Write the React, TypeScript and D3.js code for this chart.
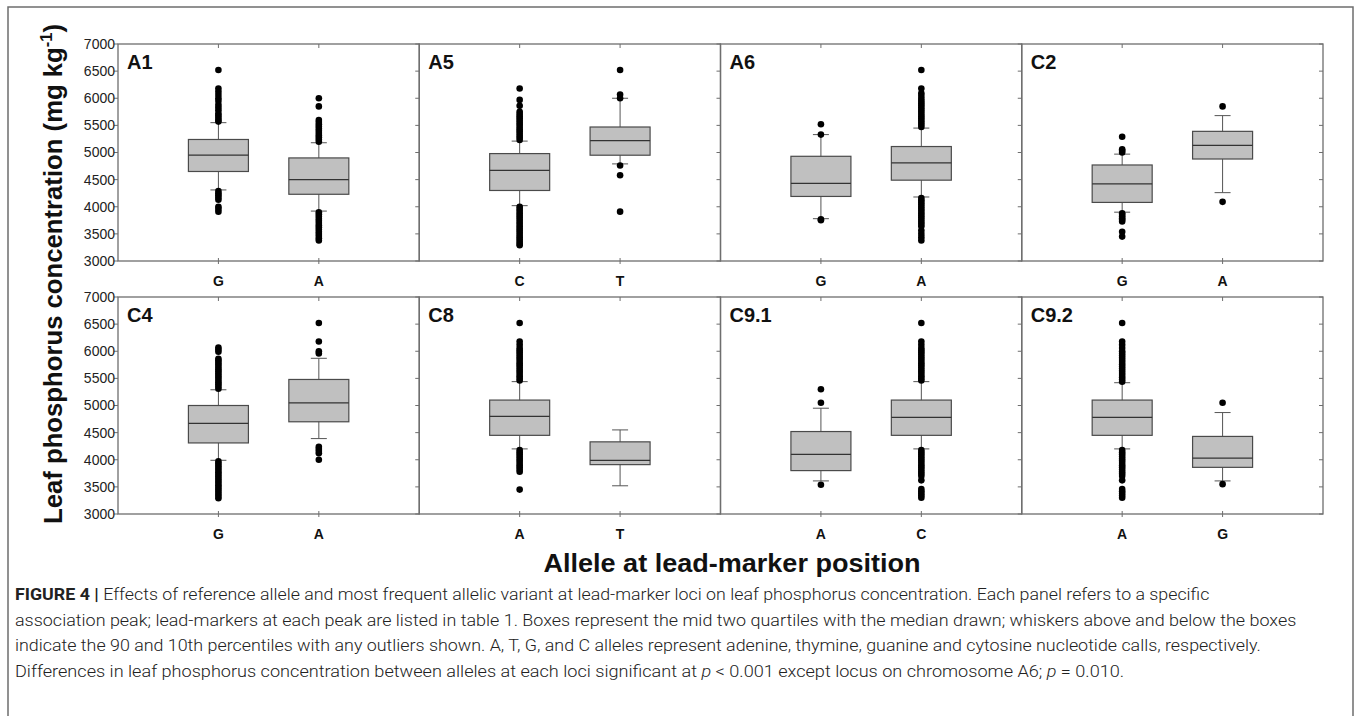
import React, { useEffect, useRef } from 'react'
import * as d3 from 'd3'

// panels and alleles
const panelNames = ['A1', 'A5', 'A6', 'C2', 'C4', 'C8', 'C9.1', 'C9.2']
const alleles = [['G', 'A'], ['C', 'T'], ['G', 'A'], ['G', 'A'], ['G', 'A'], ['A', 'T'], ['A', 'C'], ['A', 'G']]

// box stats (mg/kg)
const lowWhisker = [[4310, 3920], [4020, 4790], [3780, 4180], [3900, 4260], [3990, 4390], [4200, 3520], [3610, 4200], [4200, 3610]]
const q1 = [[4650, 4230], [4300, 4950], [4190, 4490], [4080, 4880], [4310, 4700], [4450, 3910], [3800, 4450], [4450, 3860]]
const medians = [[4950, 4500], [4670, 5220], [4430, 4810], [4420, 5130], [4670, 5050], [4800, 3990], [4100, 4780], [4780, 4030]]
const q3 = [[5240, 4900], [4980, 5470], [4930, 5110], [4770, 5390], [5000, 5480], [5100, 4330], [4520, 5100], [5100, 4430]]
const highWhisker = [[5550, 5180], [5210, 6000], [5330, 5450], [4970, 5680], [5290, 5870], [5440, 4550], [4950, 5440], [5420, 4870]]

const outliers = [
  [
    [5570, 5600, 5640, 5680, 5720, 5780, 5830, 5880, 5950, 6000, 6060, 6120, 6180, 6520, 4290, 4250, 4210, 4170, 4130, 4000, 3960, 3910],
    [5200, 5240, 5280, 5320, 5360, 5400, 5440, 5480, 5520, 5560, 5600, 5850, 6000, 3900, 3860, 3820, 3780, 3740, 3700, 3660, 3620, 3580, 3540, 3500, 3460, 3420, 3380],
  ],
  [
    [5230, 5270, 5310, 5350, 5390, 5430, 5470, 5510, 5550, 5590, 5630, 5670, 5710, 5750, 5860, 5970, 6180,
      4000, 3960, 3920, 3880, 3840, 3800, 3760, 3720, 3680, 3640, 3600, 3560, 3520, 3480, 3440, 3400, 3360, 3320, 3290],
    [6000, 6070, 6520, 4760, 4580, 3910],
  ],
  [
    [5330, 5520, 3770, 3750],
    [5470, 5510, 5550, 5590, 5630, 5670, 5710, 5750, 5790, 5830, 5870, 5910, 5950, 5990, 6040, 6090, 6180, 6520,
      4160, 4120, 4080, 4040, 4000, 3960, 3920, 3880, 3840, 3800, 3760, 3720, 3680, 3640, 3560, 3500, 3440, 3380],
  ],
  [
    [5000, 5030, 5060, 5290, 3880, 3850, 3820, 3790, 3760, 3730, 3540, 3450],
    [5850, 4090],
  ],
  [
    [5310, 5350, 5390, 5430, 5470, 5510, 5550, 5590, 5630, 5670, 5710, 5750, 5790, 5830, 5860, 5990, 6030, 6070,
      3970, 3930, 3890, 3850, 3810, 3770, 3730, 3690, 3650, 3610, 3570, 3530, 3490, 3450, 3410, 3370, 3330, 3290],
    [5960, 6000, 6180, 6520, 4240, 4200, 4160, 4120, 4000],
  ],
  [
    [5460, 5500, 5540, 5580, 5620, 5660, 5700, 5740, 5780, 5820, 5860, 5900, 5940, 5980, 6020, 6060, 6120, 6180, 6520,
      4180, 4140, 4100, 4060, 4020, 3980, 3940, 3900, 3860, 3820, 3780, 3450],
    [],
  ],
  [
    [5050, 5300, 3540],
    [5460, 5500, 5540, 5580, 5620, 5660, 5700, 5740, 5780, 5820, 5860, 5900, 5940, 5980, 6020, 6060, 6120, 6180, 6520,
      4180, 4140, 4100, 4060, 4020, 3980, 3940, 3900, 3860, 3820, 3780, 3740, 3700, 3620, 3460, 3420, 3380, 3340, 3300],
  ],
  [
    [5440, 5480, 5520, 5560, 5600, 5640, 5680, 5720, 5760, 5800, 5840, 5880, 5920, 5960, 6000, 6060, 6120, 6180, 6520,
      4180, 4140, 4100, 4060, 4020, 3980, 3940, 3900, 3860, 3820, 3780, 3740, 3700, 3620, 3460, 3420, 3380, 3340, 3300],
    [5050, 3550],
  ],
]

const yTicks = [3000, 3500, 4000, 4500, 5000, 5500, 6000, 6500, 7000]

const captionLines = [
  'Effects of reference allele and most frequent allelic variant at lead-marker loci on leaf phosphorus concentration. Each panel refers to a specific',
  'association peak; lead-markers at each peak are listed in table 1. Boxes represent the mid two quartiles with the median drawn; whiskers above and below the boxes',
  'indicate the 90 and 10th percentiles with any outliers shown. A, T, G, and C alleles represent adenine, thymine, guanine and cytosine nucleotide calls, respectively.',
]

// squeeze a text node horizontally so it spans the given width
function fitWidth(sel: any, x: number, y: number, w: number) {
  const node = sel.node() as SVGTextElement
  const natural = node.getBBox().width || w
  sel.attr('x', 0).attr('y', 0)
    .attr('transform', `translate(${x},${y}) scale(${w / natural},1)`)
}

function App() {
  const svgRef = useRef<SVGSVGElement>(null)

  useEffect(() => {
    const width = 1360
    const height = 716
    const svg = d3.select(svgRef.current)
      .attr('width', width)
      .attr('height', height)
    svg.selectAll('*').remove()

    const font = 'Liberation Sans, Arial, sans-serif'
    const left = 118
    const panelW = (1323 - 118) / 4
    const rowTops = [44, 297]
    const panelH = 217
    const frameColor = '#6e6e6e'

    // outer frame
    svg.append('path')
      .attr('d', `M8,${height} L8,7 L1353,7 L1353,${height}`)
      .attr('fill', 'none')
      .attr('stroke', frameColor)
      .attr('stroke-width', 1.5)

    panelNames.forEach((name, i) => {
      const col = i % 4
      const row = Math.floor(i / 4)
      const x0 = left + col * panelW
      const top = rowTops[row]
      const g = svg.append('g')

      const yScale = d3.scaleLinear().domain([3000, 7000]).range([top + panelH, top])
      const xScale = d3.scalePoint<string>().domain(alleles[i]).range([x0, x0 + panelW]).padding(1)

      // ticks
      yTicks.forEach(t => {
        g.append('line')
          .attr('x1', x0 - 4).attr('x2', x0)
          .attr('y1', yScale(t)).attr('y2', yScale(t))
          .attr('stroke', frameColor).attr('stroke-width', 1)
        if (col === 3) {
          g.append('line')
            .attr('x1', x0 + panelW - 4).attr('x2', x0 + panelW)
            .attr('y1', yScale(t)).attr('y2', yScale(t))
            .attr('stroke', frameColor).attr('stroke-width', 1)
        }
      })
      alleles[i].forEach(a => {
        const cx = xScale(a) as number
        g.append('line')
          .attr('x1', cx).attr('x2', cx)
          .attr('y1', top).attr('y2', top + 4)
          .attr('stroke', frameColor)
        g.append('line')
          .attr('x1', cx).attr('x2', cx)
          .attr('y1', top + panelH - 3).attr('y2', top + panelH + 3)
          .attr('stroke', frameColor)
        g.append('text')
          .attr('x', cx).attr('y', top + panelH + 20)
          .attr('dy', '0.36em')
          .attr('text-anchor', 'middle')
          .attr('font-family', font)
          .attr('font-weight', 'bold')
          .attr('font-size', 14)
          .attr('fill', '#111')
          .text(a)
      })

      if (col === 0) {
        const yAxis = d3.axisLeft(yScale).tickValues(yTicks).tickSize(0).tickPadding(3).tickFormat(d3.format('d'))
        const ax = g.append('g')
          .attr('transform', `translate(${x0},0)`)
          .call(yAxis)
        ax.select('.domain').remove()
        ax.selectAll('text')
          .attr('font-family', font)
          .attr('font-size', 14)
          .attr('fill', '#222')
      }

      // boxes
      alleles[i].forEach((a, j) => {
        const cx = xScale(a) as number
        const bw = 60
        const cap = 16
        const whiskerColor = '#555'
        g.append('line')
          .attr('x1', cx).attr('x2', cx)
          .attr('y1', yScale(highWhisker[i][j])).attr('y2', yScale(lowWhisker[i][j]))
          .attr('stroke', whiskerColor)
        ;[highWhisker[i][j], lowWhisker[i][j]].forEach(v => {
          g.append('line')
            .attr('x1', cx - cap / 2).attr('x2', cx + cap / 2)
            .attr('y1', yScale(v)).attr('y2', yScale(v))
            .attr('stroke', whiskerColor)
        })
        g.append('rect')
          .attr('x', cx - bw / 2)
          .attr('y', yScale(q3[i][j]))
          .attr('width', bw)
          .attr('height', yScale(q1[i][j]) - yScale(q3[i][j]))
          .attr('fill', '#c0c0c0')
          .attr('stroke', '#4a4a4a')
          .attr('stroke-width', 1.2)
        g.append('line')
          .attr('x1', cx - bw / 2).attr('x2', cx + bw / 2)
          .attr('y1', yScale(medians[i][j])).attr('y2', yScale(medians[i][j]))
          .attr('stroke', '#333')
          .attr('stroke-width', 1.2)
        g.selectAll(null)
          .data(outliers[i][j])
          .join('circle')
          .attr('cx', cx)
          .attr('cy', d => yScale(d))
          .attr('r', 3.3)
          .attr('fill', '#000')
      })

      // panel frame
      g.append('rect')
        .attr('x', x0).attr('y', top)
        .attr('width', panelW).attr('height', panelH)
        .attr('fill', 'none')
        .attr('stroke', frameColor)
        .attr('stroke-width', 1.3)

      g.append('text')
        .attr('x', x0 + 9).attr('y', top + 25)
        .attr('font-family', font)
        .attr('font-weight', 'bold')
        .attr('font-size', 20)
        .attr('fill', '#111')
        .text(name)
    })

    // axis titles
    const yTitle = svg.append('text')
      .attr('transform', 'translate(62,274) rotate(-90)')
      .attr('text-anchor', 'middle')
      .attr('font-family', font)
      .attr('font-weight', 'bold')
      .attr('font-size', 25)
      .attr('fill', '#111')
      .attr('textLength', 500)
      .attr('lengthAdjust', 'spacingAndGlyphs')
    yTitle.append('tspan').text('Leaf phosphorus concentration (mg kg')
    yTitle.append('tspan').attr('font-size', 16).attr('dy', -10).text('-1')
    yTitle.append('tspan').attr('dy', 10).text(')')

    svg.append('text')
      .attr('x', 732).attr('y', 572)
      .attr('text-anchor', 'middle')
      .attr('font-family', font)
      .attr('font-weight', 'bold')
      .attr('font-size', 25)
      .attr('fill', '#111')
      .attr('textLength', 377)
      .attr('lengthAdjust', 'spacingAndGlyphs')
      .text('Allele at lead-marker position')

    // caption
    const capFont = 'Roboto, Liberation Sans, sans-serif'
    const capSize = 16.5
    const capWidths = [1195, 1282, 1246, 1110]
    const baselines = [600, 626, 651, 677]
    const capText = () => svg.append('text')
      .attr('font-family', capFont).attr('font-weight', 300).attr('font-size', capSize).attr('fill', '#222')

    const cap0 = capText()
    cap0.append('tspan').attr('font-weight', 'bold').text('FIGURE 4 | ')
    cap0.append('tspan').text(captionLines[0])
    fitWidth(cap0, 15, baselines[0], capWidths[0])
    ;[1, 2].forEach(k => {
      const t = capText().text(captionLines[k])
      fitWidth(t, 15, baselines[k], capWidths[k])
    })
    const cap3 = capText()
    cap3.append('tspan').text('Differences in leaf phosphorus concentration between alleles at each loci significant at ')
    cap3.append('tspan').attr('font-style', 'italic').text('p')
    cap3.append('tspan').text(' < 0.001 except locus on chromosome A6; ')
    cap3.append('tspan').attr('font-style', 'italic').text('p')
    cap3.append('tspan').text(' = 0.010.')
    fitWidth(cap3, 15, baselines[3], capWidths[3])
  }, [])

  return (
    <div className='App'>
      <svg ref={svgRef} style={{ position: 'absolute', left: 0, top: 0 }}></svg>
    </div>
  )
}

export default App
